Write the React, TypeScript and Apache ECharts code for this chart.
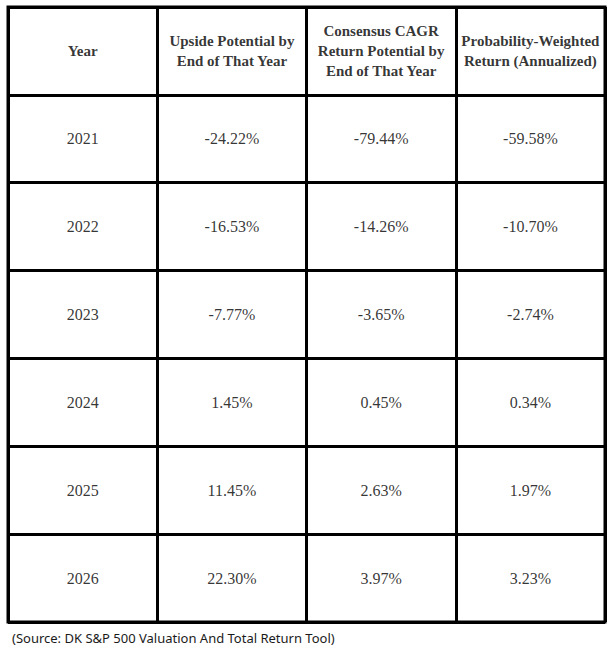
import React, { useEffect, useRef } from "react";
import * as echarts from "echarts";

const columns = ["Year", "Upside Potential by\nEnd of That Year", "Consensus CAGR\nReturn Potential by\nEnd of That Year", "Probability-Weighted\nReturn (Annualized)"];
const years = ["2021", "2022", "2023", "2024", "2025", "2026"];
const upside = ["-24.22%", "-16.53%", "-7.77%", "1.45%", "11.45%", "22.30%"];
const consensusCagr = ["-79.44%", "-14.26%", "-3.65%", "0.45%", "2.63%", "3.97%"];
const probWeighted = ["-59.58%", "-10.70%", "-2.74%", "0.34%", "1.97%", "3.23%"];
const sourceNote = "(Source: DK S&P 500 Valuation And Total Return Tool)";

const SERIF = "'Liberation Serif', 'Times New Roman', serif";

export default function App() {
  const ref = useRef<HTMLDivElement>(null);
  useEffect(() => {
    if (!ref.current) return;
    const chart = echarts.init(ref.current, null, { renderer: "svg" });
    const rows = ["header", ...years];
    const headerData = columns.map((c, i) => ({ value: [i, 0], text: c }));
    const bodyData: any[] = [];
    years.forEach((y, r) => {
      [y, upside[r], consensusCagr[r], probWeighted[r]].forEach((t, c) => {
        bodyData.push({ value: [c, r + 1], text: t });
      });
    });
    chart.setOption({
      animation: false,
      backgroundColor: "#ffffff",
      textStyle: { fontFamily: SERIF },
      grid: { left: 8, top: 7, right: 7, bottom: 35, show: true, borderColor: "#000", borderWidth: 3, backgroundColor: "transparent" },
      xAxis: {
        type: "category",
        data: columns.map((_, i) => String(i)),
        axisLabel: { show: false },
        axisTick: { show: false },
        axisLine: { show: false },
        splitLine: { show: true, lineStyle: { color: "#000", width: 3 } },
      },
      yAxis: {
        type: "category",
        inverse: true,
        data: rows,
        axisLabel: { show: false },
        axisTick: { show: false },
        axisLine: { show: false },
        splitLine: { show: true, lineStyle: { color: "#000", width: 3 } },
      },
      series: [
        {
          type: "scatter",
          symbolSize: 0,
          data: headerData,
          label: {
            show: true,
            position: "inside",
            formatter: (p: any) => p.data.text,
            fontFamily: SERIF,
            fontWeight: "bold",
            fontSize: 15,
            lineHeight: 20,
            color: "#000",
            align: "center",
            verticalAlign: "middle",
          },
        },
        {
          type: "scatter",
          symbolSize: 0,
          data: bodyData,
          label: {
            show: true,
            position: "inside",
            formatter: (p: any) => p.data.text,
            fontFamily: SERIF,
            fontWeight: "normal",
            fontSize: 16,
            color: "#000",
            align: "center",
            verticalAlign: "middle",
          },
        },
      ],
      graphic: [
        {
          type: "text",
          left: 12,
          top: 631,
          style: { text: sourceNote, fontFamily: "Noto Sans", fontSize: 13, fill: "#1a1a1a" },
        },
      ],
    });
    return () => chart.dispose();
  }, []);
  return <div ref={ref} style={{ position: "fixed", left: 0, top: 0, width: 612, height: 657 }} />;
}
